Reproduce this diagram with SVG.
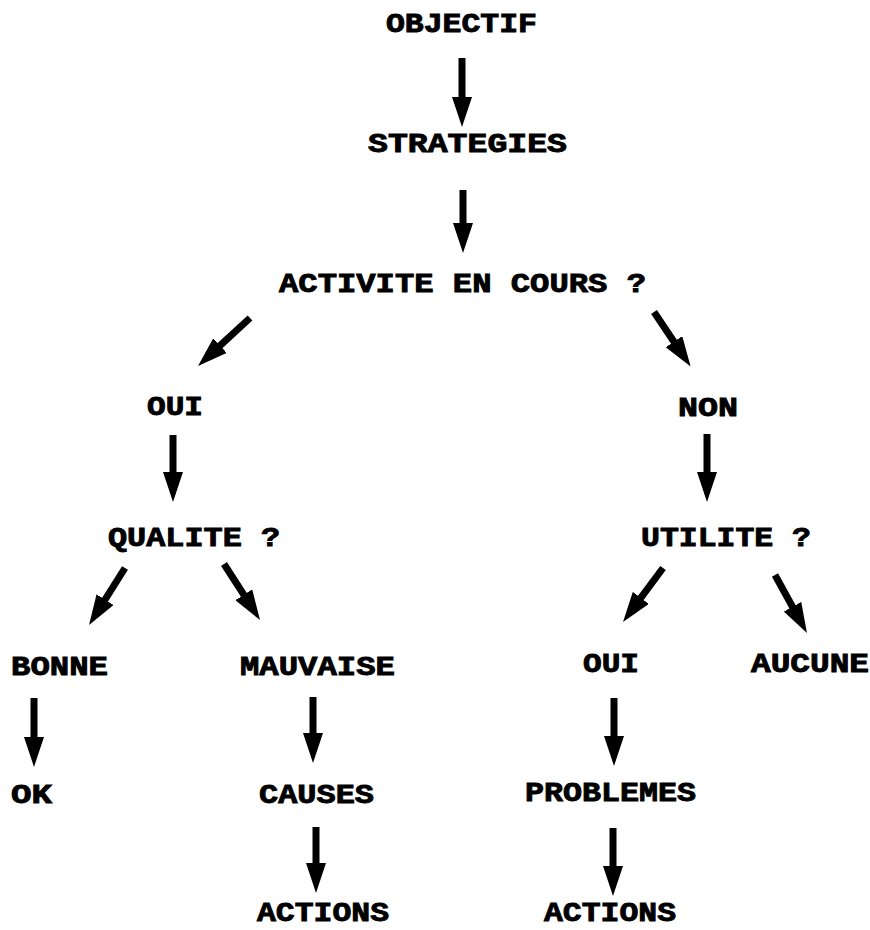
<svg xmlns="http://www.w3.org/2000/svg" width="870" height="930" viewBox="0 0 870 930">
<style>
  text { font-family: "Liberation Mono", "DejaVu Sans Mono", monospace; font-weight: bold; font-size: 27px; fill: #000; stroke: #000; stroke-width: 0.9; }
  .c { stroke: #000; stroke-width: 7; fill: none; marker-end: url(#ah); }
</style>
<defs>
  <marker id="ah" viewBox="0 0 30 20" refX="10" refY="10" markerWidth="30" markerHeight="20" markerUnits="userSpaceOnUse" orient="auto">
    <path d="M0,0 L30,10 L0,20 Z" fill="#000"/>
  </marker>
</defs>
<rect width="870" height="930" fill="#fff"/>
<g id="connectors">
  <line class="c" x1="462" y1="58" x2="462" y2="107"/>
  <line class="c" x1="463" y1="190" x2="463" y2="233"/>
  <line class="c" x1="250" y1="318" x2="212.7" y2="352.4"/>
  <line class="c" x1="654" y1="312" x2="679.5" y2="350"/>
  <line class="c" x1="173" y1="435" x2="173" y2="482"/>
  <line class="c" x1="707" y1="434" x2="707" y2="482"/>
  <line class="c" x1="125" y1="568" x2="99.7" y2="608.1"/>
  <line class="c" x1="224" y1="564" x2="249.2" y2="603.2"/>
  <line class="c" x1="34" y1="698" x2="34" y2="747"/>
  <line class="c" x1="313" y1="697" x2="313" y2="743"/>
  <line class="c" x1="316" y1="827" x2="316" y2="873"/>
  <line class="c" x1="663" y1="568" x2="634.9" y2="605.9"/>
  <line class="c" x1="775" y1="575" x2="797.3" y2="615.5"/>
  <line class="c" x1="614" y1="698" x2="614" y2="746"/>
  <line class="c" x1="613" y1="828" x2="613" y2="876"/>
</g>
<g id="objectif"><text x="386" y="32" textLength="151" lengthAdjust="spacingAndGlyphs">OBJECTIF</text></g>
<g id="strategies"><text x="368" y="152" textLength="199" lengthAdjust="spacingAndGlyphs">STRATEGIES</text></g>
<g id="activite"><text x="279" y="292" textLength="367" lengthAdjust="spacingAndGlyphs">ACTIVITE EN COURS ?</text></g>
<g id="oui1"><text x="147" y="415" textLength="56" lengthAdjust="spacingAndGlyphs">OUI</text></g>
<g id="non"><text x="678" y="416" textLength="60" lengthAdjust="spacingAndGlyphs">NON</text></g>
<g id="qualite"><text x="108" y="546" textLength="172" lengthAdjust="spacingAndGlyphs">QUALITE ?</text></g>
<g id="utilite"><text x="641" y="546" textLength="170" lengthAdjust="spacingAndGlyphs">UTILITE ?</text></g>
<g id="bonne"><text x="11" y="675" textLength="97" lengthAdjust="spacingAndGlyphs">BONNE</text></g>
<g id="mauvaise"><text x="240" y="675" textLength="155" lengthAdjust="spacingAndGlyphs">MAUVAISE</text></g>
<g id="oui2"><text x="583" y="672" textLength="56" lengthAdjust="spacingAndGlyphs">OUI</text></g>
<g id="aucune"><text x="751" y="672" textLength="118" lengthAdjust="spacingAndGlyphs">AUCUNE</text></g>
<g id="ok"><text x="11" y="803" textLength="41" lengthAdjust="spacingAndGlyphs">OK</text></g>
<g id="causes"><text x="259" y="803" textLength="115" lengthAdjust="spacingAndGlyphs">CAUSES</text></g>
<g id="problemes"><text x="525" y="801" textLength="171" lengthAdjust="spacingAndGlyphs">PROBLEMES</text></g>
<g id="actions1"><text x="257" y="921" textLength="132" lengthAdjust="spacingAndGlyphs">ACTIONS</text></g>
<g id="actions2"><text x="544" y="921" textLength="132" lengthAdjust="spacingAndGlyphs">ACTIONS</text></g>
</svg>
